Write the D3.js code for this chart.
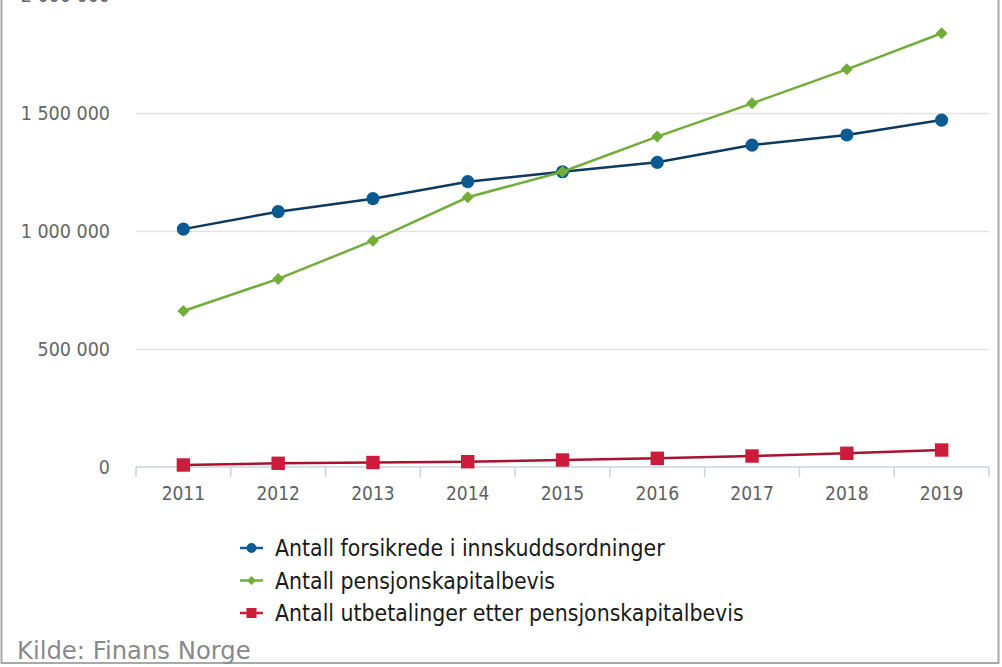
<!DOCTYPE html>
<html>
<head>
<meta charset="utf-8">
<script src="https://cdn.jsdelivr.net/npm/d3@7"></script>
<style>
  html, body { margin: 0; padding: 0; background: #fff; }
  svg { display: block; font-family: "DejaVu Sans Condensed", "DejaVu Sans", sans-serif; }
</style>
</head>
<body>
<svg id="chart" width="1002" height="667"></svg>
<script>
var years = ["2011", "2012", "2013", "2014", "2015", "2016", "2017", "2018", "2019"];
var forsikrede = [1008000, 1082000, 1137000, 1209000, 1251000, 1291000, 1364000, 1407000, 1470000];
var kapitalbevis = [661000, 797000, 959000, 1143000, 1251000, 1400000, 1541000, 1685000, 1838000];
var utbetalinger = [8500, 15700, 19000, 22500, 29700, 36900, 46600, 58000, 72000];
var yTicks = [0, 500000, 1000000, 1500000, 2000000];
var seriesNames = ["Antall forsikrede i innskuddsordninger", "Antall pensjonskapitalbevis", "Antall utbetalinger etter pensjonskapitalbevis"];

var series = [
  {name: seriesNames[0], values: forsikrede, line: "#0c3a5e", fill: "#0b5a92", symbol: "circle"},
  {name: seriesNames[1], values: kapitalbevis, line: "#72ad3a", fill: "#72ad3a", symbol: "diamond"},
  {name: seriesNames[2], values: utbetalinger, line: "#a8122e", fill: "#cc1c3c", symbol: "square"}
];

var svg = d3.select("#chart");

var x = d3.scaleBand().domain(years).range([136, 989]);
var y = d3.scaleLinear().domain([0, 2000000]).range([467, -5]);

var fmt = function(v) { return d3.format(",")(v).replace(/,/g, " "); };

// frame
svg.append("rect")
  .attr("x", 1.5).attr("y", -10)
  .attr("width", 997).attr("height", 673)
  .attr("fill", "none").attr("stroke", "#a8a8a8").attr("stroke-width", 2);

// grid
svg.append("g").selectAll("line")
  .data(yTicks.slice(1))
  .enter().append("line")
  .attr("x1", 136).attr("x2", 989)
  .attr("y1", function(d) { return y(d) + 0.5; })
  .attr("y2", function(d) { return y(d) + 0.5; })
  .attr("stroke", "#e2e2e2").attr("stroke-width", 1.5);

// y labels
svg.append("g").selectAll("text")
  .data(yTicks)
  .enter().append("text")
  .attr("x", 110)
  .attr("y", function(d) { return y(d) + 7; })
  .attr("text-anchor", "end")
  .attr("font-size", 19.5)
  .attr("fill", "#666")
  .text(fmt);

// x axis
var xAxis = svg.append("g").attr("transform", "translate(0,467)");
xAxis.append("line")
  .attr("x1", 136).attr("x2", 989)
  .attr("stroke", "#c8d4e2").attr("stroke-width", 1.5);
xAxis.selectAll(".tick-line")
  .data(years.concat(["end"]))
  .enter().append("line")
  .attr("class", "tick-line")
  .attr("x1", function(d, i) { return 136 + i * x.step(); })
  .attr("x2", function(d, i) { return 136 + i * x.step(); })
  .attr("y1", 0).attr("y2", 10)
  .attr("stroke", "#c8d4e2").attr("stroke-width", 1.5);
xAxis.selectAll(".tick-label")
  .data(years)
  .enter().append("text")
  .attr("class", "tick-label")
  .attr("x", function(d) { return x(d) + x.bandwidth() / 2; })
  .attr("y", 33)
  .attr("text-anchor", "middle")
  .attr("font-size", 19)
  .attr("fill", "#606060")
  .text(function(d) { return d; });

function symbolPath(type) {
  if (type === "circle") return d3.symbol().type(d3.symbolCircle).size(135)();
  if (type === "square") return d3.symbol().type(d3.symbolSquare).size(180)();
  return d3.symbol().type(d3.symbolSquare).size(72)();
}
function symbolRotate(type) { return type === "diamond" ? " rotate(45)" : ""; }

var line = d3.line()
  .x(function(d, i) { return x(years[i]) + x.bandwidth() / 2; })
  .y(function(d) { return y(d); });

series.forEach(function(s) {
  var g = svg.append("g");
  g.append("path")
    .attr("d", line(s.values))
    .attr("fill", "none")
    .attr("stroke", s.line)
    .attr("stroke-width", 2.5);
  g.selectAll("path.marker")
    .data(s.values)
    .enter().append("path")
    .attr("class", "marker")
    .attr("d", symbolPath(s.symbol))
    .attr("transform", function(d, i) {
      return "translate(" + (x(years[i]) + x.bandwidth() / 2) + "," + y(d) + ")" + symbolRotate(s.symbol);
    })
    .attr("fill", s.fill);
});

// legend
var legend = svg.append("g").selectAll("g")
  .data(series)
  .enter().append("g")
  .attr("transform", function(d, i) { return "translate(0," + (548 + i * 32.5) + ")"; });
legend.append("line")
  .attr("x1", 240).attr("x2", 263)
  .attr("stroke", function(d) { return d.fill; })
  .attr("stroke-width", 2.5);
legend.append("path")
  .attr("d", function(d) { return symbolPath(d.symbol); })
  .attr("transform", function(d) { return "translate(251.5,0)" + symbolRotate(d.symbol) + " scale(0.75)"; })
  .attr("fill", function(d) { return d.fill; });
legend.append("text")
  .attr("x", 275)
  .attr("y", 8)
  .attr("font-size", 22.8)
  .attr("fill", "#1a1a1a")
  .text(function(d) { return d.name; });

svg.append("text")
  .attr("x", 17).attr("y", 659)
  .attr("font-family", "DejaVu Sans")
  .attr("font-size", 24.3)
  .attr("fill", "#8a8a8a")
  .text("Kilde: Finans Norge");
</script>
</body>
</html>
